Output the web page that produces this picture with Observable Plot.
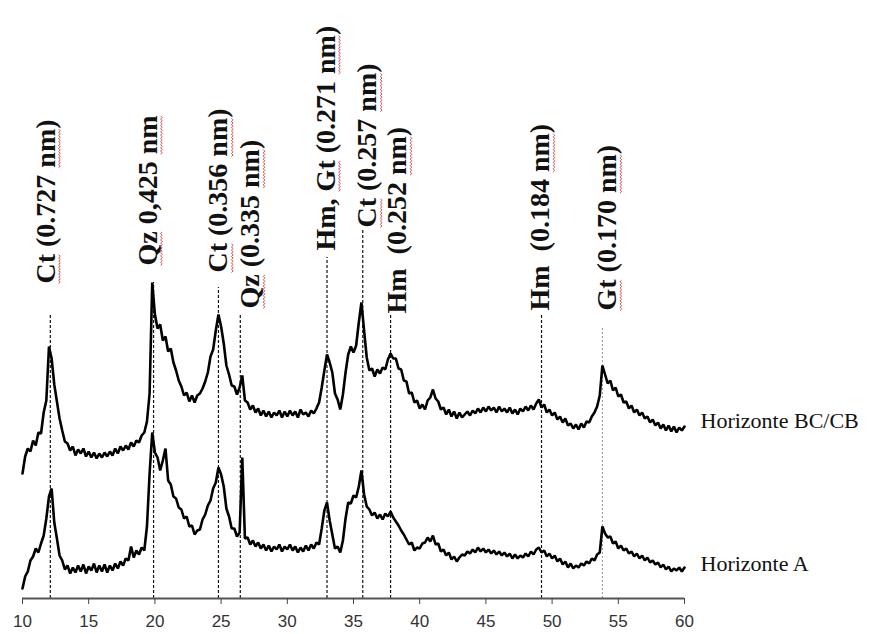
<!DOCTYPE html>
<html>
<head>
<meta charset="utf-8">
<script src="https://cdn.jsdelivr.net/npm/d3@7"></script>
<script src="https://cdn.jsdelivr.net/npm/@observablehq/plot@0.6"></script>
<style>
  html, body { margin: 0; padding: 0; background: #fff; }
  #chart svg { display: block; }
</style>
</head>
<body>
<div id="chart"></div>
<script>
// 2θ (degrees) sampling positions
const twoTheta = [
  10.0,10.2,10.4,10.6,10.8,11.0,11.2,11.4,11.6,11.8,
  12.0,12.2,12.4,12.6,12.8,13.0,13.2,13.4,13.6,13.8,
  14.0,14.2,14.4,14.6,14.8,15.0,15.2,15.4,15.6,15.8,
  16.0,16.2,16.4,16.6,16.8,17.0,17.2,17.4,17.6,17.8,
  18.0,18.2,18.4,18.6,18.8,19.0,19.2,19.4,19.6,19.8,
  20.0,20.2,20.4,20.6,20.8,21.0,21.2,21.4,21.6,21.8,
  22.0,22.2,22.4,22.6,22.8,23.0,23.2,23.4,23.6,23.8,
  24.0,24.2,24.4,24.6,24.8,25.0,25.2,25.4,25.6,25.8,
  26.0,26.2,26.4,26.6,26.8,27.0,27.2,27.4,27.6,27.8,
  28.0,28.2,28.4,28.6,28.8,29.0,29.2,29.4,29.6,29.8,
  30.0,30.2,30.4,30.6,30.8,31.0,31.2,31.4,31.6,31.8,
  32.0,32.2,32.4,32.6,32.8,33.0,33.2,33.4,33.6,33.8,
  34.0,34.2,34.4,34.6,34.8,35.0,35.2,35.4,35.6,35.8,
  36.0,36.2,36.4,36.6,36.8,37.0,37.2,37.4,37.6,37.8,
  38.0,38.2,38.4,38.6,38.8,39.0,39.2,39.4,39.6,39.8,
  40.0,40.2,40.4,40.6,40.8,41.0,41.2,41.4,41.6,41.8,
  42.0,42.2,42.4,42.6,42.8,43.0,43.2,43.4,43.6,43.8,
  44.0,44.2,44.4,44.6,44.8,45.0,45.2,45.4,45.6,45.8,
  46.0,46.2,46.4,46.6,46.8,47.0,47.2,47.4,47.6,47.8,
  48.0,48.2,48.4,48.6,48.8,49.0,49.2,49.4,49.6,49.8,
  50.0,50.2,50.4,50.6,50.8,51.0,51.2,51.4,51.6,51.8,
  52.0,52.2,52.4,52.6,52.8,53.0,53.2,53.4,53.6,53.8,
  54.0,54.2,54.4,54.6,54.8,55.0,55.2,55.4,55.6,55.8,
  56.0,56.2,56.4,56.6,56.8,57.0,57.2,57.4,57.6,57.8,
  58.0,58.2,58.4,58.6,58.8,59.0,59.2,59.4,59.6,59.8,
  60.0
];

// Intensity (arbitrary, stacked) — Horizonte BC/CB (upper trace)
const horizonteBC = [
  125,142,150,147,158,153,166,165,186,198,
  252,240,214,197,180,168,157,155,148,152,
  143,149,145,150,142,147,141,146,140,145,
  141,146,142,147,143,150,145,152,148,153,
  149,156,152,158,156,163,166,177,205,316,
  284,270,274,258,262,247,250,236,228,218,
  212,203,206,197,203,196,203,205,210,217,
  226,242,249,268,284,272,255,233,224,213,
  212,204,211,223,198,196,189,193,186,190,
  183,188,182,187,181,186,183,188,181,187,
  182,188,183,187,181,189,184,186,182,188,
  185,190,196,211,228,244,236,226,205,199,
  189,204,226,244,252,246,253,276,296,268,
  241,228,230,222,229,225,231,229,239,245,
  240,240,230,229,218,217,205,206,196,198,
  190,194,189,198,201,209,200,197,189,191,
  184,189,182,187,180,186,181,184,187,183,
  188,185,190,186,191,187,192,188,191,186,
  192,187,190,186,191,185,189,184,190,187,
  192,188,193,189,195,199,191,194,186,189,
  183,186,179,182,176,180,173,175,170,174,
  169,175,171,177,176,182,186,192,203,233,
  224,215,218,208,211,202,204,196,197,190,
  193,186,189,183,186,180,182,176,179,173,
  176,170,174,168,173,167,172,166,171,168,
  172
];

// Intensity (arbitrary, stacked) — Horizonte A (lower trace)
const horizonteA = [
  10,22,27,38,42,50,46,55,63,80,
  102,110,76,60,43,38,29,33,25,31,
  26,33,27,34,25,32,28,35,26,33,
  27,34,26,33,28,35,30,37,33,40,
  38,52,41,48,44,51,48,72,125,166,
  146,141,128,138,150,118,114,102,100,91,
  89,80,82,72,73,64,68,69,79,84,
  93,98,110,116,131,124,112,90,82,70,
  70,62,66,141,60,61,54,58,52,56,
  50,54,48,53,47,52,49,54,47,52,
  49,54,48,52,46,51,47,53,48,54,
  50,56,54,70,88,96,78,64,50,52,
  46,58,80,96,95,103,101,112,128,104,
  92,89,83,86,80,84,79,85,82,87,
  81,77,73,68,64,59,54,56,48,51,
  50,55,56,61,57,63,54,55,47,49,
  43,46,39,42,37,41,44,43,47,45,
  49,46,51,47,50,46,49,45,48,44,
  47,43,46,42,45,40,44,40,43,41,
  45,42,47,44,49,51,46,48,42,45,
  40,43,37,40,34,37,31,35,30,33,
  31,35,33,37,35,40,38,44,46,72,
  65,61,62,55,57,50,53,48,50,45,
  47,42,45,40,43,38,41,36,38,34,
  36,31,34,29,32,27,30,28,31,27,
  31
];

// Peak assignments (dashed reference lines)
const peakTheta   = [12.1, 19.9, 24.8, 26.45, 33.0, 35.7, 37.8, 49.2, 53.8];
const peakLineTop = [285, 316, 311, 283, 341, 370, 283, 283, 271];
const peakLabels  = ["Ct (0.727 nm)", "Qz 0,425 nm", "Ct (0.356 nm)", "Qz (0.335 nm)",
                     "Hm, Gt (0.271 nm)", "Ct (0.257 nm)", "Hm  (0.252 nm)", "Hm  (0.184 nm)", "Gt (0.170 nm)"];
const labelTheta  = [11.75, 19.45, 24.8, 27.2, 32.9, 36.05, 38.3, 49.1, 54.15];
const labelBase   = [315, 333, 326, 290, 348, 371, 285, 288, 288];

const seriesNames  = ["Horizonte BC/CB", "Horizonte A"];
const seriesLabelY = [178, 35];
const xTicks = [10, 15, 20, 25, 30, 35, 40, 45, 50, 55, 60];

// Build tables for the library
const traceRows = [];
twoTheta.forEach((t, i) => {
  traceRows.push({s: seriesNames[0], t, v: horizonteBC[i]});
  traceRows.push({s: seriesNames[1], t, v: horizonteA[i]});
});
const peaks = peakTheta.map((t, i) => ({t, top: peakLineTop[i], label: peakLabels[i], lx: labelTheta[i], ly: labelBase[i], gt: i === 8}));
const seriesLabels = seriesNames.map((n, i) => ({n, y: seriesLabelY[i]}));

const serif = "'Liberation Serif', 'Times New Roman', serif";
const sans = "'Liberation Sans', Arial, sans-serif";

const chart = Plot.plot({
  width: 869,
  height: 634,
  marginLeft: 22,
  marginRight: 185,
  marginTop: 0,
  marginBottom: 36,
  x: {domain: [10, 60]},
  y: {domain: [0, 598], axis: null},
  style: {background: "#fff"},
  marks: [
    Plot.ruleX(peaks.filter(d => !d.gt), {x: "t", y1: 0, y2: "top", stroke: "#111", strokeWidth: 1.2, strokeDasharray: "3,2"}),
    Plot.ruleX(peaks.filter(d => d.gt), {x: "t", y1: 0, y2: "top", stroke: "#888", strokeWidth: 0.9, strokeDasharray: "2,2"}),
    Plot.line(traceRows, {x: "t", y: "v", z: "s", stroke: "#000", strokeWidth: 2.6, strokeLinejoin: "miter"}),
    Plot.text(peaks, {x: "lx", y: "ly", text: "label", rotate: -90, textAnchor: "start",
      fontSize: 28, fontWeight: "bold", fontFamily: serif, fill: "#111"}),
    Plot.text(seriesLabels, {x: 60, y: "y", text: "n", dx: 16, textAnchor: "start",
      fontSize: 22, fontFamily: serif, fill: "#111", letterSpacing: 0.4}),
    Plot.ruleY([0], {stroke: "#555", strokeWidth: 2}),
    Plot.axisX(xTicks, {tickSize: 6, tickPadding: 10, fontSize: 17, fontFamily: sans, stroke: "#444", fill: "#333", tickFormat: d => String(d), label: null})
  ]
});

document.getElementById("chart").appendChild(chart);

// Red wavy spell-check marks under abbreviations, as in the source figure
const svgNS = "http://www.w3.org/2000/svg";
d3.select(chart).selectAll("text").each(function () {
  const el = this;
  const txt = el.textContent;
  if (!peakLabels.includes(txt)) return;
  const re = /(Ct|Qz|Gt|nm)/g;
  let m;
  while ((m = re.exec(txt))) {
    const s = el.getStartPositionOfChar(m.index);
    const e = el.getEndPositionOfChar(m.index + m[0].length - 1);
    const y0 = s.y + 4;
    let d = `M${s.x},${y0}`;
    let k = 0;
    for (let x = s.x + 1.6; x <= e.x + 0.01; x += 1.6) {
      d += `L${x.toFixed(1)},${(y0 + (k % 2 === 0 ? 1.6 : 0)).toFixed(1)}`;
      k++;
    }
    const p = document.createElementNS(svgNS, "path");
    p.setAttribute("d", d);
    p.setAttribute("fill", "none");
    p.setAttribute("stroke", "#e04848");
    p.setAttribute("stroke-width", "1");
    const tr = el.getAttribute("transform");
    if (tr) p.setAttribute("transform", tr);
    el.parentNode.appendChild(p);
  }
});
</script>
</body>
</html>
